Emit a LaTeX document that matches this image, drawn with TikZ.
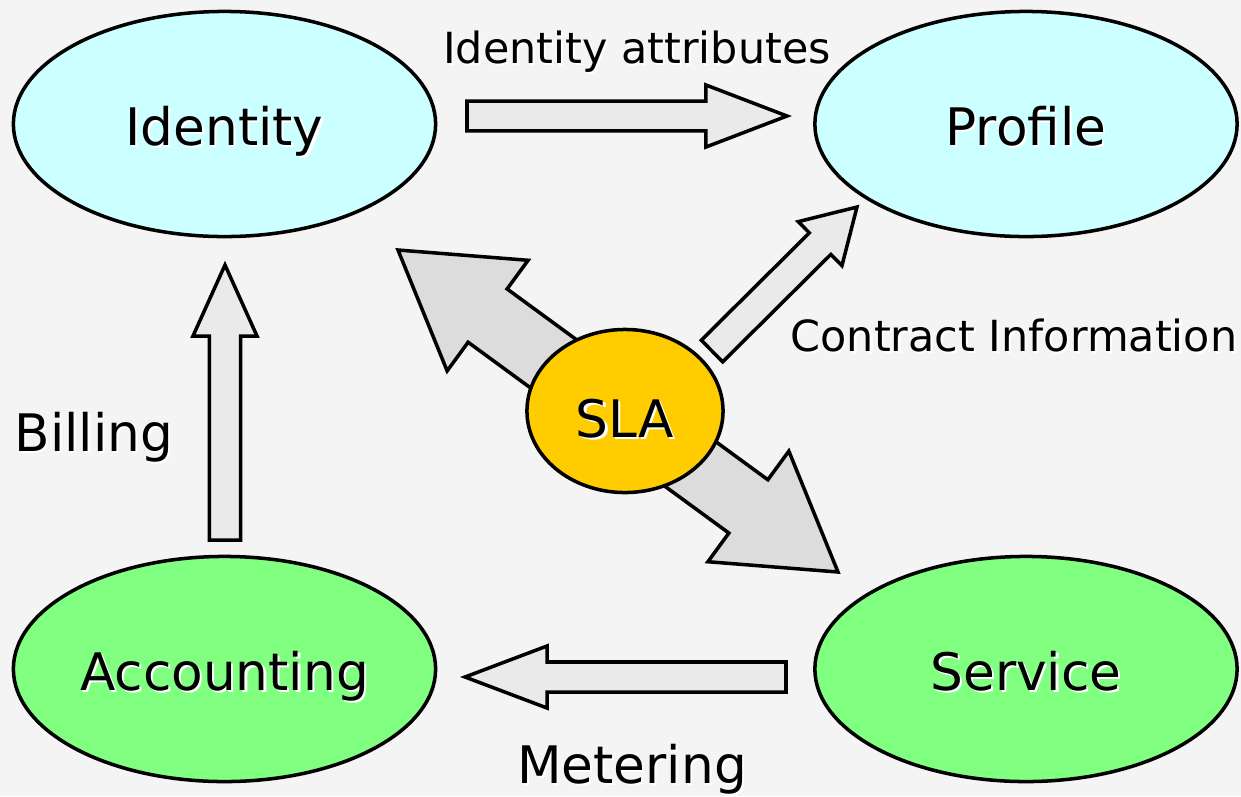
\documentclass[tikz,border=0pt]{standalone}
\usepackage{fontspec}
\setmainfont{DejaVu Sans}
\usetikzlibrary{shapes.geometric}
\usetikzlibrary{calc}
\definecolor{bgcol}{HTML}{F4F4F4}
\definecolor{idcol}{HTML}{CCFFFF}
\definecolor{svcol}{HTML}{80FF80}
\definecolor{slacol}{HTML}{FFCC00}
\definecolor{arrlight}{HTML}{EAEAEA}
\definecolor{arrdark}{HTML}{DCDCDC}
\tikzset{big/.style={font=\fontsize{14.7}{17}\selectfont}}
\tikzset{sm/.style={font=\fontsize{12.2}{14}\selectfont}}
\tikzset{oval/.style={ellipse, draw, line width=1pt, inner sep=0pt,
  minimum width=4.22cm, minimum height=2.25cm,
  text height=0.62cm, text depth=0.2cm, big}}
\tikzset{blk/.style={draw, line width=1pt, fill=arrlight, line join=miter}}
% white drop shadow behind the text
\newcommand{\shd}[1]{\makebox[0pt][l]{\kern0.6pt\raisebox{-0.6pt}{\color{white}#1}}#1}
% block arrow: from, to, shaft half width, head half width, head length
\newcommand{\blockarrow}[6][]{%
  \coordinate (bh) at ($(#3)!#6!(#2)$);
  \draw[blk,#1] ($(#2)!#4!90:(#3)$) -- ($(bh)!#4!90:(#3)$) -- ($(bh)!#5!90:(#3)$)
    -- (#3) -- ($(bh)!#5!-90:(#3)$) -- ($(bh)!#4!-90:(#3)$)
    -- ($(#2)!#4!-90:(#3)$) -- cycle;}
\newcommand{\dblarrow}[6][]{%
  \coordinate (ha) at ($(#2)!#6!(#3)$);
  \coordinate (hb) at ($(#3)!#6!(#2)$);
  \draw[blk,#1] (#2) -- ($(ha)!#5!90:(#3)$) -- ($(ha)!#4!90:(#3)$)
    -- ($(hb)!#4!90:(#3)$) -- ($(hb)!#5!90:(#3)$) -- (#3)
    -- ($(hb)!#5!-90:(#3)$) -- ($(hb)!#4!-90:(#3)$)
    -- ($(ha)!#4!-90:(#3)$) -- ($(ha)!#5!-90:(#3)$) -- cycle;}

\begin{document}
\begin{tikzpicture}[x=0.01cm, y=-0.01cm]
  \fill[bgcol] (0,0) rectangle (1241,796);
  \useasboundingbox (0,0) rectangle (1241,796);

  % arrow ends
  \coordinate (ia-s) at (467,116);
  \coordinate (ia-e) at (787,116);
  \coordinate (me-s) at (786,677);
  \coordinate (me-e) at (465,677);
  \coordinate (bi-s) at (225,540);
  \coordinate (bi-e) at (225,265);
  \coordinate (ci-s) at (712,351);
  \coordinate (ci-e) at (857,207);
  \coordinate (sl-a) at (398,250);
  \coordinate (sl-b) at (838,572);

  \dblarrow[fill=arrdark]{sl-a}{sl-b}{0.33cm}{0.685cm}{1.11cm}
  \blockarrow{ia-s}{ia-e}{0.148cm}{0.31cm}{0.81cm}
  \blockarrow{me-s}{me-e}{0.15cm}{0.31cm}{0.82cm}
  \blockarrow{bi-s}{bi-e}{0.155cm}{0.32cm}{0.71cm}
  \blockarrow{ci-s}{ci-e}{0.152cm}{0.31cm}{0.52cm}

  \node[oval, fill=idcol] (Identity) at (224.5,124) {\shd{Identity}};
  \node[oval, fill=idcol] (Profile) at (1026,124) {\shd{Profile}};
  \node[oval, fill=svcol] (Accounting) at (224.5,669) {\shd{Accounting}};
  \node[oval, fill=svcol] (Service) at (1026,669) {\shd{Service}};
  \node[oval, fill=slacol, minimum width=1.96cm, minimum height=1.63cm,
    text height=0.72cm] (SLA) at (625,411) {\shd{SLA}};

  \node[sm, anchor=base] (attr) at (637,63) {\shd{Identity attributes}};
  \node[sm, anchor=base] (contract) at (1014,351) {\shd{Contract Information}};
  \node[big, anchor=base] (billing) at (94,451) {\shd{Billing}};
  \node[big, anchor=base] (metering) at (632,783) {\shd{Metering}};
\end{tikzpicture}
\end{document}
